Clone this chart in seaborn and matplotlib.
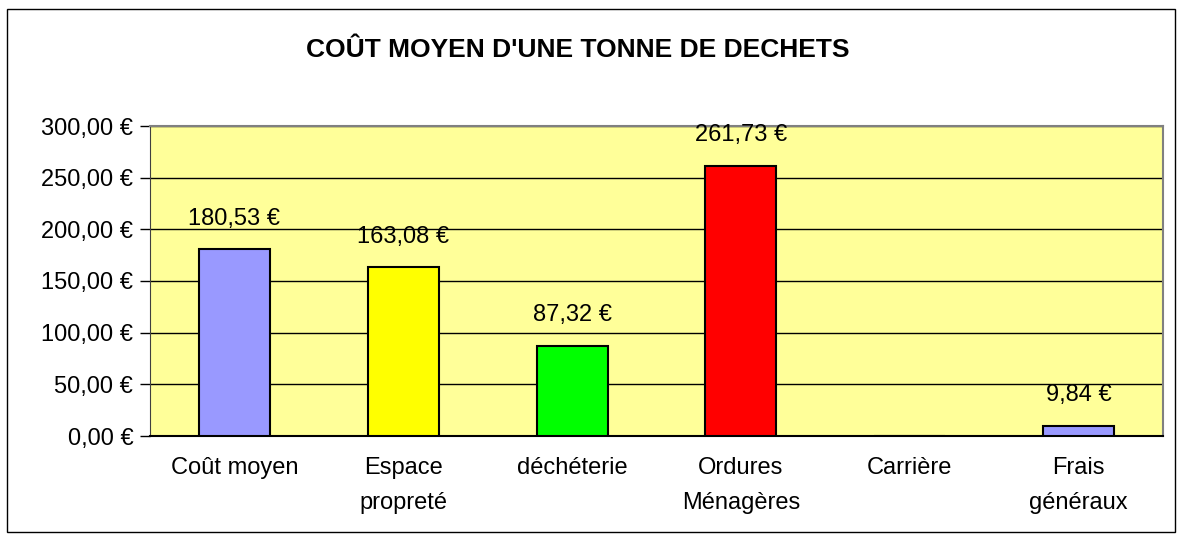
import matplotlib
matplotlib.use("Agg")
import matplotlib.pyplot as plt
import seaborn as sns
import pandas as pd
import numpy as np
from matplotlib.patches import Rectangle

# Chart data / données du graphique
categories = ["Coût moyen", "Espace\npropreté", "déchéterie", "Ordures\nMénagères", "Carrière", "Frais\ngénéraux"]
costs = [180.53, 163.08, 87.32, 261.73, 0.0, 9.84]
bar_colors = ["#9999FF", "#FFFF00", "#00FF00", "#FF0000", "#9999FF", "#9999FF"]
y_ticks = [0, 50, 100, 150, 200, 250, 300]

sns.set_style("white")
plt.rcParams['font.family'] = ['Liberation Sans', 'DejaVu Sans']
plt.rcParams['text.color'] = 'black'
plt.rcParams['xtick.color'] = 'black'
plt.rcParams['ytick.color'] = 'black'


def euro(v):
    return f"{v:,.2f} €".replace(",", " ").replace(".", ",")


df = pd.DataFrame({"categorie": categories, "cout": costs})

fig = plt.figure(figsize=(11.82, 5.40), dpi=100)
ax = fig.add_axes([150 / 1182, 1 - 436 / 540, (1163 - 150) / 1182, (436 - 126) / 540])

sns.barplot(data=df, x="categorie", y="cout", hue="categorie", palette=bar_colors,
            saturation=1, legend=False, width=0.42, edgecolor="black", linewidth=1.5,
            ax=ax, zorder=3)

ax.set_facecolor("#FFFF99")
ax.set_ylim(0, 300)
ax.set_xlim(-0.5, len(categories) - 0.5)
ax.set_yticks(y_ticks)
ax.set_yticklabels([euro(v) for v in y_ticks], fontsize=17)
ax.yaxis.grid(True, color="black", linewidth=1, zorder=1)
ax.set_axisbelow(True)

# category labels at centre, tick marks between categories
ax.set_xticks(range(len(categories)))
ax.set_xticklabels(categories, fontsize=17, linespacing=1.8)
ax.set_xticks(np.arange(-0.5, len(categories), 1), minor=True)
ax.tick_params(axis="x", which="major", length=0, pad=15)
ax.tick_params(axis="x", which="minor", length=7, width=1, color="black", direction="out")
ax.tick_params(axis="y", length=7, width=1, color="black", direction="out", left=True, pad=5)
ax.set_xlabel("")
ax.set_ylabel("")

for side in ["top", "right"]:
    ax.spines[side].set_color("#808080")
    ax.spines[side].set_linewidth(1.5)
ax.spines["left"].set_color("#404040")
ax.spines["bottom"].set_color("black")
ax.spines["bottom"].set_linewidth(1.5)

# value labels above bars (skip empty bar)
for i, v in enumerate(costs):
    if v > 0:
        ax.annotate(euro(v), (i, v), xytext=(0, 14), textcoords="offset points",
                    ha="center", va="bottom", fontsize=17)

fig.text(578 / 1182, 1 - 50 / 540, "COÛT MOYEN D'UNE TONNE DE DECHETS",
         ha="center", va="center", fontsize=19, fontweight="bold")

# outer frame
fig.patches.append(Rectangle((7 / 1182, 1 - 532 / 540), (1175 - 7) / 1182, (532 - 9) / 540,
                             transform=fig.transFigure, fill=False, edgecolor="black", linewidth=1))

fig.savefig("out.png", dpi=100)
